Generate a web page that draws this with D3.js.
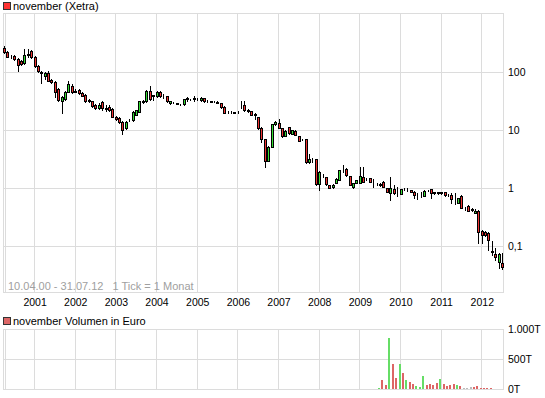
<!DOCTYPE html>
<html>
<head>
<meta charset="utf-8">
<script src="https://cdn.jsdelivr.net/npm/d3@7"></script>
<style>
  body { margin: 0; background: #fff; }
  svg { display: block; font-family: "Liberation Sans", Arial, sans-serif; }
</style>
</head>
<body>
<div class="chart-container"></div>
<script>
// monthly candles, 10.04.00 - 31.07.12
const firstMonth = new Date(2000, 3, 1);
const lastMonth = new Date(2012, 6, 1);

const open = [
  260, 221, 189, 189, 168, 155, 143, 205, 231, 182,
  127, 96, 85.3, 98, 72.8, 67.2, 50.9, 31, 34.2, 46,
  58.5, 48, 48.9, 44, 40.9, 32.8, 31, 26.9, 23.9, 30.3,
  23.5, 25.4, 23, 17, 16.2, 13.6, 10.6, 14.6, 14.8, 18.1,
  20.6, 30, 31, 47, 39.3, 38.5, 45.6, 40.1, 38.5, 28.9,
  29.5, 28.9, 28.3, 28, 34.6, 34.2, 34.8, 34.5, 33, 35,
  31.6, 31.2, 30.9, 30.5, 29.1, 25.2, 20.6, 20.4, 20.2, 20.2,
  25.9, 26.9, 21.7, 21.2, 19.2, 16.4, 10.9, 7, 2.94, 5.1,
  12.5, 13, 10.7, 7.9, 11.1, 8.5, 9.7, 7.85, 6.9, 7,
  2.76, 3.05, 3.1, 1.16, 1.68, 1.52, 1.12, 1.02, 1.22, 1.36,
  2.03, 2.14, 1.6, 1.02, 1.22, 1.22, 1.52, 1.42, 1.46, 1.19,
  1.17, 1.15, 1.27, 0.98, 0.8, 0.94, 0.85, 0.78, 0.94, 0.96,
  0.92, 0.86, 0.78, 0.81, 0.72, 0.91, 0.94, 0.83, 0.82, 0.83,
  0.84, 0.75, 0.75, 0.64, 0.55, 0.72, 0.45, 0.49, 0.43, 0.36,
  0.4, 0.18, 0.175, 0.165, 0.079, 0.071, 0.052, 0.05
];
const high = [
  281, 231, 197, 197, 175, 161, 250, 250, 240, 189,
  132, 104, 100, 104, 75.7, 69.9, 53, 38.5, 47, 69.9,
  62.1, 51, 50.9, 45.2, 41.7, 34.2, 31.6, 28, 29.1, 31.6,
  26.9, 26.9, 23.9, 17.4, 16.7, 14.3, 14.3, 15.4, 21.2, 22.5,
  31.6, 32.8, 48.9, 58.5, 40.9, 47, 47, 42.6, 39.3, 32,
  30.3, 29.5, 28.6, 34.2, 36.5, 34.8, 38.5, 35.6, 36.5, 35.6,
  32.5, 31.8, 31.5, 31, 29.5, 25.9, 21.2, 20.9, 20.8, 21,
  31, 31, 22.7, 21.6, 19.6, 16.7, 11.1, 7.1, 5.3, 12.6,
  14.4, 15.2, 10.8, 9.8, 11.2, 10.1, 9.8, 8, 7.1, 7.1,
  3.9, 3.3, 3.15, 1.95, 1.73, 1.54, 1.14, 1.16, 1.45, 2.07,
  2.5, 2.2, 1.63, 1.23, 1.39, 2.26, 2.26, 1.48, 1.48, 1.4,
  1.2, 1.19, 1.33, 0.99, 1.55, 1.12, 1.03, 0.97, 0.99, 0.99,
  0.93, 0.88, 0.8, 0.83, 0.9, 0.93, 0.97, 0.85, 0.85, 0.86,
  0.85, 0.78, 0.82, 0.8, 0.67, 0.74, 0.47, 0.5, 0.44, 0.43,
  0.41, 0.183, 0.18, 0.17, 0.12, 0.09, 0.075, 0.074
];
const low = [
  213, 182, 175, 161, 104, 132, 137, 182, 175, 122,
  100, 64.6, 75.7, 69.9, 64.6, 37, 31.6, 20, 32.8, 45.2,
  43.4, 45, 41.7, 38.5, 30.3, 30.3, 24.9, 23, 23, 22.1,
  21.4, 21.2, 16.7, 14.8, 13.2, 8.5, 10.4, 14.3, 14.5, 17.8,
  20.4, 29.1, 30.3, 32.8, 32.8, 37.8, 37.8, 35, 30.3, 28,
  28.9, 28, 26.9, 27.4, 31.9, 33.2, 31.9, 33.3, 32, 30.3,
  30.3, 30.3, 30.1, 28.8, 23.9, 19.6, 20, 19.8, 19.6, 19.7,
  24, 21.6, 20.1, 17.8, 15.7, 10.4, 6.3, 2.3, 2.9, 5,
  12.4, 10.8, 7.7, 7.85, 8.5, 8.35, 8.1, 6.45, 6.7, 2.7,
  2.7, 2.8, 1.14, 0.92, 1.54, 1.14, 0.98, 0.99, 1.21, 1.34,
  1.9, 1.63, 1.1, 1, 1.21, 1.21, 1.26, 1.34, 1.26, 1.04,
  1.12, 1.07, 1.03, 0.83, 0.62, 0.78, 0.72, 0.77, 0.9, 0.88,
  0.84, 0.66, 0.63, 0.7, 0.71, 0.88, 0.66, 0.78, 0.78, 0.79,
  0.73, 0.72, 0.54, 0.52, 0.54, 0.45, 0.42, 0.39, 0.4, 0.36,
  0.11, 0.11, 0.147, 0.084, 0.069, 0.057, 0.041, 0.04
];
const close = [
  221, 185, 186, 165, 132, 137, 197, 197, 182, 127,
  104, 100, 98, 71.4, 67.2, 46, 32.8, 37, 45.2, 63,
  45.2, 46, 43.4, 39.3, 31, 31, 25.9, 23.5, 27.5, 23.9,
  23.3, 22.1, 17, 15.2, 13.6, 10, 13.6, 14.8, 20.6, 22.1,
  31, 31.6, 47, 33.8, 40.1, 45.6, 38.5, 39.5, 31, 31.6,
  29.4, 28.6, 27.6, 33.8, 35, 33.6, 35.2, 34, 35.4, 31,
  31.2, 30.8, 30.5, 29.1, 24.6, 19.9, 20.4, 20.2, 20, 20.6,
  26.4, 22.1, 21.2, 18.1, 18.4, 10.9, 7, 2.9, 5.1, 12.5,
  13.5, 11, 7.85, 9.6, 8.7, 9.96, 8.2, 6.5, 6.85, 2.76,
  3.1, 3, 1.16, 1.9, 1.66, 1.16, 1, 1.14, 1.4, 2.03,
  2, 1.66, 1.12, 1.2, 1.36, 1.6, 1.28, 1.4, 1.28, 1.2,
  1.16, 1.14, 1.04, 0.84, 0.98, 0.82, 0.84, 0.94, 0.95, 0.95,
  0.84, 0.75, 0.77, 0.8, 0.88, 0.9, 0.8, 0.82, 0.83, 0.82,
  0.75, 0.74, 0.63, 0.63, 0.66, 0.45, 0.44, 0.4, 0.42, 0.4,
  0.175, 0.153, 0.15, 0.125, 0.08, 0.063, 0.071, 0.042
];

// volume in thousand euro (T), Jul 2009 - Apr 2012
const volStart = new Date(2009, 6, 1);
const volume = [
  20, 150, 70, 855, 420, 190, 420, 270, 150, 120,
  85, 50, 35, 215, 70, 85, 70, 100, 170, 85,
  50, 70, 85, 70, 50, 20, 20, 35, 35, 50,
  20, 20, 20, 20
];
const volDir = [
  'up', 'down', 'down', 'up', 'down', 'down', 'up', 'down', 'up', 'down',
  'down', 'up', 'up', 'up', 'down', 'down', 'down', 'down', 'up', 'down',
  'down', 'down', 'down', 'up', 'down', 'flat', 'flat', 'flat', 'down', 'down',
  'down', 'down', 'down', 'down'
];

const yearTicks = [2001, 2002, 2003, 2004, 2005, 2006, 2007, 2008, 2009, 2010, 2011, 2012];
const priceTicks = [100, 10, 1, 0.1];
const priceTickLabels = ['100', '10', '1', '0,1'];
const volTicks = [0, 500, 1000];
const volTickLabels = ['0T', '500T', '1.000T'];

const grid_color = '#dcdcdc';
const up_color = '#33dd33';
const down_color = '#ee3333';

function build_svg() {
  return d3.select('.chart-container')
    .append('svg')
    .attr('width', 545)
    .attr('height', 398);
}

function draw_frame(svg, x_scale, top, bottom, hlines) {
  const g = svg.append('g').attr('class', 'frame')
    .style('shape-rendering', 'crispEdges');
  // vertical year grid
  g.selectAll('.vgrid')
    .data(yearTicks)
    .enter()
    .append('line')
    .attr('x1', d => Math.round(x_scale(new Date(d, 0, 1))) + 0.5)
    .attr('x2', d => Math.round(x_scale(new Date(d, 0, 1))) + 0.5)
    .attr('y1', top)
    .attr('y2', bottom)
    .style('stroke', grid_color);
  // horizontal grid
  g.selectAll('.hgrid')
    .data(hlines)
    .enter()
    .append('line')
    .attr('x1', 3)
    .attr('x2', 504)
    .attr('y1', d => Math.round(d) + 0.5)
    .attr('y2', d => Math.round(d) + 0.5)
    .style('stroke', grid_color);
  // border
  g.append('rect')
    .attr('x', 3.5).attr('y', top + 0.5)
    .attr('width', 500).attr('height', bottom - top)
    .style('fill', 'none').style('stroke', grid_color);
  g.append('line')
    .attr('x1', 5.5).attr('x2', 5.5)
    .attr('y1', top).attr('y2', bottom)
    .style('stroke', grid_color);
}

function draw_title(svg, y, text, color) {
  svg.append('rect')
    .attr('x', 3.5).attr('y', y - 7.5)
    .attr('width', 7).attr('height', 7)
    .style('fill', color).style('stroke', '#333')
    .style('shape-rendering', 'crispEdges');
  svg.append('text')
    .attr('x', 13).attr('y', y)
    .style('font-size', '11px')
    .style('fill', '#000')
    .text(text);
}

function chart_main() {
  const months = d3.timeMonth.range(firstMonth, d3.timeMonth.offset(lastMonth, 1));
  const candles = months.map((m, i) => ({
    date: m, o: open[i], h: high[i], l: low[i], c: close[i]
  }));
  const vol_months = d3.timeMonth.range(volStart, d3.timeMonth.offset(volStart, volume.length));
  const vols = vol_months.map((m, i) => ({date: m, v: volume[i], dir: volDir[i]}));

  const svg = build_svg();

  const x_scale = d3.scaleTime()
    .domain([firstMonth, d3.timeMonth.offset(lastMonth, 1)])
    .range([3.5, 505]);
  const y_scale = d3.scaleLog()
    .domain([0.01584, 1048])
    .range([292, 13]);
  const v_scale = d3.scaleLinear()
    .domain([0, 1000])
    .range([389, 329]);

  // price panel
  draw_title(svg, 10, 'november (Xetra)', '#ff3333');
  draw_frame(svg, x_scale, 13, 292, priceTicks.map(d => y_scale(d)));

  svg.append('text')
    .attr('x', 8).attr('y', 290)
    .style('font-size', '11px')
    .style('fill', '#a0a0a0')
    .style('white-space', 'pre')
    .text('10.04.00 - 31.07.12   1 Tick = 1 Monat');

  const candle_g = svg.append('g').attr('class', 'candles')
    .style('shape-rendering', 'crispEdges');
  const px = d => Math.floor(x_scale(d.date));

  candle_g.selectAll('.wick')
    .data(candles)
    .enter()
    .append('line')
    .attr('x1', d => px(d) + 1.5)
    .attr('x2', d => px(d) + 1.5)
    .attr('y1', d => Math.round(y_scale(d.h)))
    .attr('y2', d => Math.round(y_scale(d.l)) + 1)
    .style('stroke', '#000');

  candle_g.selectAll('.body')
    .data(candles)
    .enter()
    .append('rect')
    .attr('x', d => px(d) + 0.5)
    .attr('y', d => Math.round(y_scale(Math.max(d.o, d.c))) + 0.5)
    .attr('width', 2)
    .attr('height', d => Math.max(0, Math.round(y_scale(Math.min(d.o, d.c))) - Math.round(y_scale(Math.max(d.o, d.c)))))
    .style('fill', d => d.c >= d.o ? up_color : down_color)
    .style('stroke', '#000');

  // x axis labels
  const x_axis = d3.axisBottom(x_scale)
    .tickValues(yearTicks.map(d => new Date(d, 0, 1)))
    .tickFormat(d3.timeFormat('%Y'))
    .tickSize(0);
  const xg = svg.append('g')
    .attr('transform', 'translate(0.5, 296)')
    .call(x_axis);
  xg.select('.domain').remove();
  xg.selectAll('text')
    .style('font-family', '"Liberation Sans", Arial, sans-serif')
    .style('font-size', '10.5px')
    .style('fill', '#000');

  // price axis
  const y_axis = d3.axisRight(y_scale)
    .tickValues(priceTicks)
    .tickFormat((d, i) => priceTickLabels[i])
    .tickSize(0);
  const yg = svg.append('g')
    .attr('transform', 'translate(505, 0.5)')
    .call(y_axis);
  yg.select('.domain').remove();
  yg.selectAll('text')
    .style('font-family', '"Liberation Sans", Arial, sans-serif')
    .style('font-size', '10.5px')
    .style('fill', '#000');

  // volume panel
  draw_title(svg, 325, 'november Volumen in Euro', '#dd6666');
  draw_frame(svg, x_scale, 329, 389, volTicks.map(d => v_scale(d)));

  const dir_color = {up: '#66dd66', down: '#dd6666', flat: '#bbbbbb'};
  svg.append('g').attr('class', 'volume')
    .style('shape-rendering', 'crispEdges')
    .selectAll('rect')
    .data(vols)
    .enter()
    .append('rect')
    .attr('x', d => Math.floor(x_scale(d.date)) - 1)
    .attr('y', d => Math.round(v_scale(d.v)))
    .attr('width', 2)
    .attr('height', d => 389 - Math.round(v_scale(d.v)))
    .style('fill', d => dir_color[d.dir]);

  const v_axis = d3.axisRight(v_scale)
    .tickValues(volTicks)
    .tickFormat((d, i) => volTickLabels[i])
    .tickSize(0);
  const vg = svg.append('g')
    .attr('transform', 'translate(505, 0.5)')
    .call(v_axis);
  vg.select('.domain').remove();
  vg.selectAll('text')
    .style('font-family', '"Liberation Sans", Arial, sans-serif')
    .style('font-size', '10.5px')
    .style('fill', '#000');
}

chart_main();
</script>
</body>
</html>
